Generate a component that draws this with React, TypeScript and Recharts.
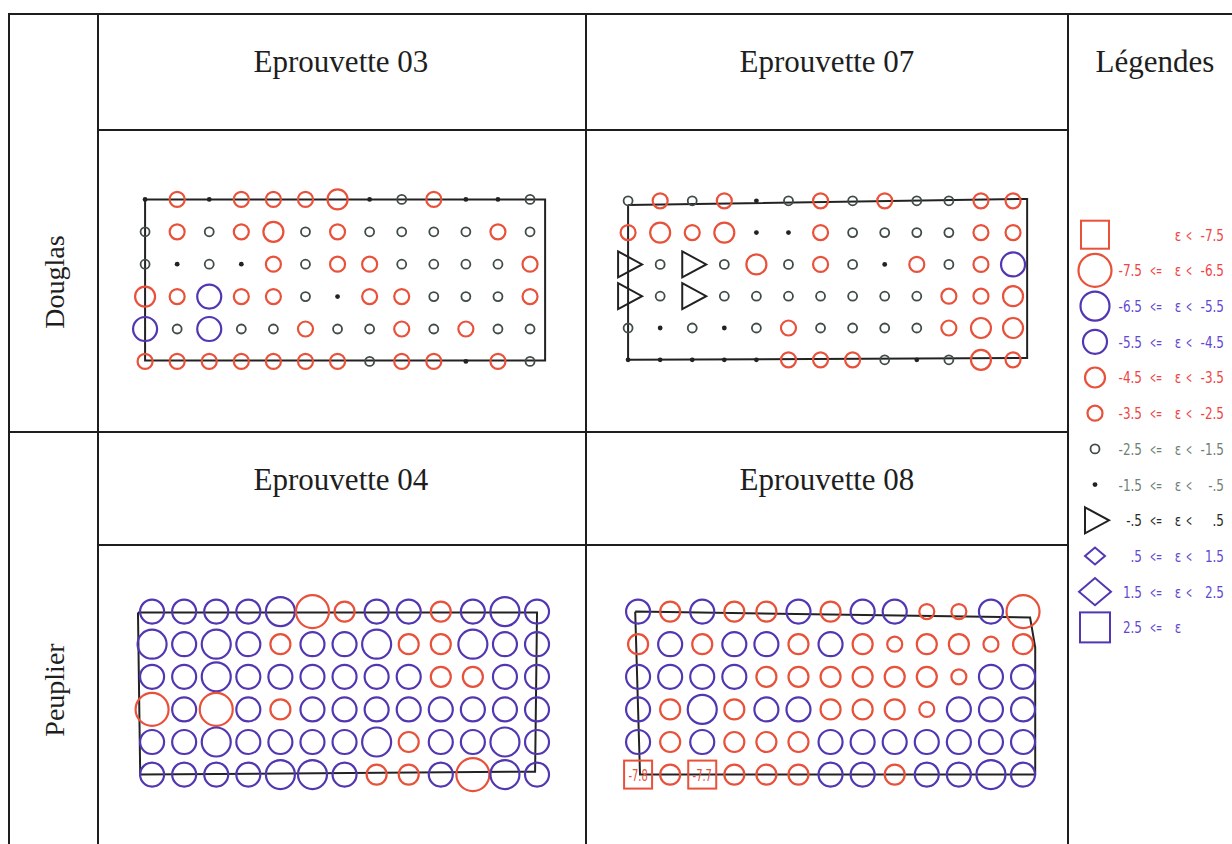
import React from 'react';
import { ScatterChart, Scatter, XAxis, YAxis } from 'recharts';

// legend classes (strain), lower bounds of each class
const classBounds = [-7.5, -6.5, -5.5, -4.5, -3.5, -2.5, -1.5, -0.5, 0.5, 1.5, 2.5];
const classLow = ['', '-7.5', '-6.5', '-5.5', '-4.5', '-3.5', '-2.5', '-1.5', '-.5', '.5', '1.5', '2.5'];
const classHigh = ['-7.5', '-6.5', '-5.5', '-4.5', '-3.5', '-2.5', '-1.5', '-.5', '.5', '1.5', '2.5', ''];

// strain at each gauge point, rows top -> bottom, 13 points per row
const douglas03 = [
  [-1, -3, -1, -3, -3, -3, -4, -1, -2, -3, -1, -1, -2],
  [-2, -3, -2, -3, -4, -2, -3, -2, -2, -2, -2, -3, -2],
  [-2, -1, -2, -1, -3, -2, -3, -3, -2, -2, -2, -2, -3],
  [-4, -3, -5, -3, -3, -2, -1, -3, -3, -2, -2, -2, -3],
  [-5, -2, -5, -2, -2, -3, -2, -2, -3, -2, -3, -2, -2],
  [-3, -3, -3, -3, -3, -3, -3, -2, -3, -3, -1, -3, -2],
];

const douglas07 = [
  [-2, -3, -2, -3, -1, -2, -3, -2, -3, -2, -2, -3, -3],
  [-3, -4, -3, -4, -1, -1, -3, -2, -2, -2, -2, -3, -3],
  [0, -2, 0, -2, -4, -2, -3, -2, -1, -3, -2, -3, -5],
  [0, -2, 0, -2, -2, -2, -2, -2, -2, -2, -3, -3, -4],
  [-2, -1, -2, -1, -2, -3, -2, -2, -2, -2, -3, -4, -4],
  [-1, -1, -1, -1, -1, -3, -3, -3, -2, -1, -2, -4, -3],
];

const peuplier04 = [
  [-5, -5, -5, -5, -6, -7, -4, -5, -5, -4, -5, -6, -5],
  [-6, -5, -6, -5, -4, -5, -5, -6, -4, -4, -6, -5, -5],
  [-5, -5, -6, -5, -5, -5, -5, -5, -5, -4, -4, -5, -5],
  [-7, -5, -7, -5, -4, -5, -5, -5, -5, -5, -5, -5, -5],
  [-5, -5, -6, -5, -5, -5, -5, -6, -4, -5, -5, -6, -5],
  [-5, -5, -5, -5, -6, -6, -5, -4, -4, -5, -7, -6, -5],
];

const peuplier08 = [
  [-5, -4, -5, -4, -4, -5, -4, -5, -5, -3, -3, -5, -7],
  [-4, -5, -4, -5, -5, -4, -5, -4, -3, -4, -4, -3, -4],
  [-5, -5, -5, -5, -4, -4, -4, -4, -4, -4, -3, -5, -5],
  [-5, -4, -6, -4, -5, -5, -4, -4, -4, -3, -5, -5, -5],
  [-5, -4, -5, -4, -4, -4, -5, -5, -5, -5, -5, -5, -5],
  [-7.8, -4, -7.7, -4, -4, -4, -5, -5, -4, -5, -5, -6, -5],
];

// specimen outlines, in gauge-grid units
const outline03 = [[0, 0], [12.47, 0], [12.47, 4.97], [0, 4.97], [0, 0]];
const outline07 = [[0, 0.13], [12.44, -0.06], [12.44, 4.94], [0, 5], [0, 0.13]];
const outline04 = [[-0.44, 0.03], [12, 0.03], [11.94, 4.91], [-0.37, 5], [-0.44, 0.03]];
const outline08 = [[-0.09, 0], [12.22, 0.18], [12.38, 1.1], [12.38, 5], [0.06, 5], [-0.09, 0]];

const RED = '#e8513a';
const PURPLE = '#5236b2';
const GREY = '#3f4c47';
const INK = '#222';

const marks = [
  { kind: 'square', size: 14, color: RED },
  { kind: 'circle', size: 16.5, color: RED },
  { kind: 'circle', size: 14.5, color: PURPLE },
  { kind: 'circle', size: 12, color: PURPLE },
  { kind: 'circle', size: 10, color: RED },
  { kind: 'circle', size: 7.5, color: RED },
  { kind: 'circle', size: 4.5, color: GREY },
  { kind: 'dot', size: 2.4, color: INK },
  { kind: 'tri', size: 13, color: INK },
  { kind: 'diamond', size: 10, color: PURPLE },
  { kind: 'diamond', size: 16, color: PURPLE },
  { kind: 'square', size: 15, color: PURPLE },
];

const legendColors = ['#f04444', '#f04444', '#6248d2', '#6248d2', '#f04444', '#f04444', '#6f8075', '#6f8075', '#2a2a2a', '#6248d2', '#6248d2', '#6248d2'];

const classOf = (v: number) => classBounds.filter((b) => v >= b).length;

const Narrow = ({ x, y, anchor, sx, fill, size = 16, children }: any) => (
  <text
    transform={`translate(${x},${y}) scale(${sx},1)`}
    textAnchor={anchor}
    fontFamily="DejaVu Sans, sans-serif"
    fontSize={size}
    fill={fill}
  >
    {children}
  </text>
);

const drawMark = (cls: number, cx: number, cy: number, label?: string) => {
  const m = marks[cls];
  const s = m.size;
  if (m.kind === 'square') {
    return (
      <g>
        <rect x={cx - s} y={cy - s} width={2 * s} height={2 * s} fill="none" stroke={m.color} strokeWidth={2} />
        {label && <Narrow x={cx} y={cy + 6} anchor="middle" sx={0.62} fill={m.color} size={16}>{label}</Narrow>}
      </g>
    );
  }
  if (m.kind === 'circle') {
    return <circle cx={cx} cy={cy} r={s} fill="none" stroke={m.color} strokeWidth={s < 6 ? 1.8 : 2.2} />;
  }
  if (m.kind === 'dot') {
    return <circle cx={cx} cy={cy} r={s} fill={m.color} />;
  }
  if (m.kind === 'tri') {
    return <path d={`M${cx - 10},${cy - 13}L${cx + 14},${cy}L${cx - 10},${cy + 13}Z`} fill="none" stroke={m.color} strokeWidth={2} />;
  }
  return (
    <path
      d={`M${cx - s},${cy}L${cx},${cy - s * 0.85}L${cx + s},${cy}L${cx},${cy + s * 0.85}Z`}
      fill="none"
      stroke={m.color}
      strokeWidth={2}
    />
  );
};

const DX = 32.08;

const Plot = ({ grid, outline, x0, y0, dy }: any) => {
  const pts = grid.flatMap((row: number[], r: number) =>
    row.map((v, c) => ({ x: c, y: r, cls: classOf(v), label: v < -7.5 ? v.toFixed(1) : undefined }))
  );
  const edge = outline.map(([x, y]: number[]) => ({ x, y }));
  return (
    <div style={{ position: 'absolute', left: x0 - DX, top: y0 - dy }}>
      <ScatterChart width={14 * DX} height={7 * dy} margin={{ top: 0, right: 0, bottom: 0, left: 0 }}>
        <XAxis type="number" dataKey="x" domain={[-1, 13]} allowDataOverflow hide />
        <YAxis type="number" dataKey="y" domain={[-1, 6]} allowDataOverflow reversed hide />
        <Scatter
          data={edge}
          line={{ stroke: INK, strokeWidth: 2 }}
          lineType="joint"
          shape={() => <g />}
          isAnimationActive={false}
        />
        <Scatter
          data={pts}
          shape={(p: any) => drawMark(p.payload.cls, p.cx, p.cy, p.payload.label)}
          isAnimationActive={false}
        />
      </ScatterChart>
    </div>
  );
};

const LegendChart = () => {
  const items = classHigh.map((_, i) => ({ x: 0, y: i, cls: i }));
  const shape = (p: any) => {
    const i = p.payload.cls;
    const { cx, cy } = p;
    const col = legendColors[i];
    return (
      <g>
        {drawMark(i, cx, cy)}
        {classLow[i] && <Narrow x={cx + 47} y={cy + 6} anchor="end" sx={0.75} fill={col}>{classLow[i]}</Narrow>}
        {classLow[i] && <Narrow x={cx + 55} y={cy + 6} anchor="start" sx={0.45} fill={col}>{'<='}</Narrow>}
        <Narrow x={cx + 83} y={cy + 6} anchor="middle" sx={0.75} fill={col}>ε</Narrow>
        {classHigh[i] && <Narrow x={cx + 94} y={cy + 6} anchor="middle" sx={0.45} fill={col}>{'<'}</Narrow>}
        {classHigh[i] && <Narrow x={cx + 129} y={cy + 6} anchor="end" sx={0.75} fill={col}>{classHigh[i]}</Narrow>}
      </g>
    );
  };
  const step = 35.7;
  return (
    <div style={{ position: 'absolute', left: 1070, top: 235 - step }}>
      <ScatterChart width={162} height={13 * step} margin={{ top: 0, right: 0, bottom: 0, left: 0 }}>
        <XAxis type="number" dataKey="x" domain={[-1.25, 6.85]} allowDataOverflow hide />
        <YAxis type="number" dataKey="y" domain={[-1, 12]} allowDataOverflow reversed hide />
        <Scatter data={items} shape={shape} isAnimationActive={false} />
      </ScatterChart>
    </div>
  );
};

const serif = "'Liberation Serif', 'Times New Roman', serif";

const Frame = () => (
  <svg width={1232} height={844} style={{ position: 'absolute', left: 0, top: 0 }}>
    <g stroke="#1e1e1e" strokeWidth={2}>
      <line x1={9} y1={14} x2={1232} y2={14} />
      <line x1={9} y1={13} x2={9} y2={844} />
      <line x1={98} y1={13} x2={98} y2={844} />
      <line x1={586} y1={13} x2={586} y2={844} />
      <line x1={1068} y1={13} x2={1068} y2={844} />
      <line x1={98} y1={130} x2={1069} y2={130} />
      <line x1={9} y1={432} x2={1069} y2={432} />
      <line x1={98} y1={545} x2={1069} y2={545} />
    </g>
    <g fontFamily={serif} fontSize={31} fill="#1e1e1e" textAnchor="middle">
      <text x={341} y={72}>Eprouvette 03</text>
      <text x={827} y={72}>Eprouvette 07</text>
      <text x={1155} y={72}>Légendes</text>
      <text x={341} y={490}>Eprouvette 04</text>
      <text x={827} y={490}>Eprouvette 08</text>
    </g>
    <g fontFamily={serif} fontSize={28} fill="#1e1e1e" textAnchor="middle">
      <text x={64} y={282} transform="rotate(-90 64 282)">Douglas</text>
      <text x={64} y={690} transform="rotate(-90 64 690)">Peuplier</text>
    </g>
  </svg>
);

const App: React.FC = () => {
  return (
    <div style={{ position: 'absolute', left: 0, top: 0, width: 1232, height: 844, background: '#fff', overflow: 'hidden' }}>
      <Frame />
      <Plot grid={douglas03} outline={outline03} x0={145} y0={199} dy={32.4} />
      <Plot grid={douglas07} outline={outline07} x0={628} y0={201} dy={31.8} />
      <Plot grid={peuplier04} outline={outline04} x0={152} y0={612} dy={32.6} />
      <Plot grid={peuplier08} outline={outline08} x0={638} y0={612} dy={32.6} />
      <LegendChart />
    </div>
  );
};

export default App;
